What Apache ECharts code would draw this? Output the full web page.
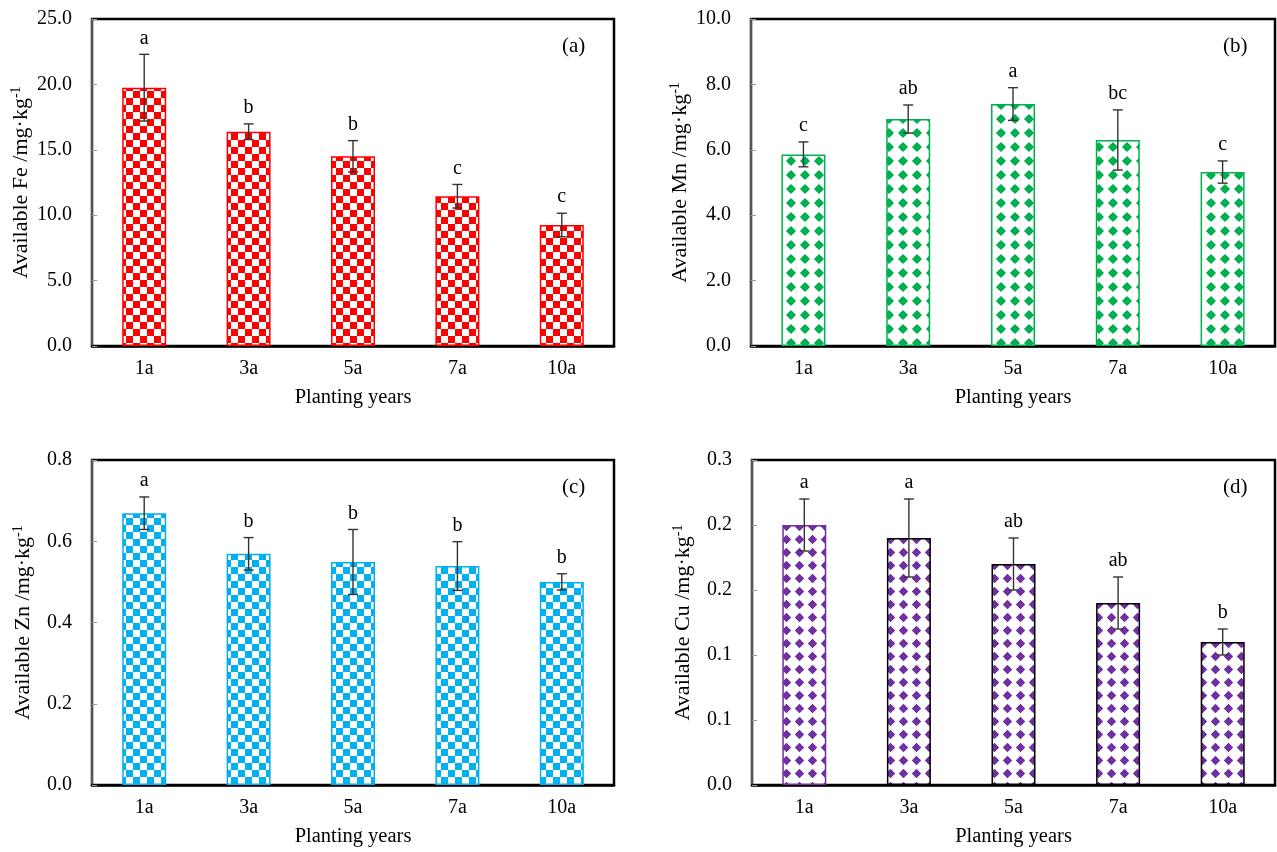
<!DOCTYPE html>
<html>
<head>
<meta charset="utf-8">
<script src="https://cdn.jsdelivr.net/npm/echarts@6/dist/echarts.min.js"></script>
<style>
html,body{margin:0;padding:0;background:#fff;}
#chart{width:1277px;height:852px;}
</style>
</head>
<body>
<div id="chart"></div>
<script>
// ---- data ----
const categories = ['1a', '3a', '5a', '7a', '10a'];

const feValues = [19.75, 16.38, 14.5, 11.45, 9.25];
const feErrors = [2.55, 0.6, 1.2, 0.9, 0.9];
const feLetters = ['a', 'b', 'b', 'c', 'c'];

const mnValues = [5.86, 6.94, 7.40, 6.30, 5.32];
const mnErrors = [0.38, 0.43, 0.5, 0.92, 0.34];
const mnLetters = ['c', 'ab', 'a', 'bc', 'c'];

const znValues = [0.669, 0.569, 0.549, 0.539, 0.50];
const znErrors = [0.04, 0.04, 0.08, 0.06, 0.02];
const znLetters = ['a', 'b', 'b', 'b', 'b'];

const cuValues = [0.20, 0.19, 0.17, 0.14, 0.11];
const cuErrors = [0.02, 0.03, 0.02, 0.02, 0.01];
const cuLetters = ['a', 'a', 'ab', 'ab', 'b'];

const yTitles = ['Available Fe /mg·kg', 'Available Mn /mg·kg', 'Available Zn /mg·kg', 'Available Cu /mg·kg'];
const panelLabels = ['(a)', '(b)', '(c)', '(d)'];
const xTitle = 'Planting years';

// ---- patterns ----
function tile(w, h, draw) {
  const c = document.createElement('canvas');
  c.width = w; c.height = h;
  const ctx = c.getContext('2d');
  ctx.fillStyle = '#fff';
  ctx.fillRect(0, 0, w, h);
  draw(ctx, w, h);
  return c;
}
function checker(color) {
  return tile(14, 14, (ctx) => {
    ctx.fillStyle = color;
    ctx.fillRect(0, 0, 7, 7);
    ctx.fillRect(7, 7, 7, 7);
  });
}
function diamonds(color, s) {
  return tile(s, s, (ctx, w, h) => {
    ctx.fillStyle = color;
    const cx = w / 2, cy = h / 2, r = s * 0.36;
    ctx.beginPath();
    ctx.moveTo(cx, cy - r); ctx.lineTo(cx + r, cy); ctx.lineTo(cx, cy + r); ctx.lineTo(cx - r, cy);
    ctx.closePath(); ctx.fill();
    ctx.beginPath();
    ctx.arc(cx, cy, s * 0.23, 0, Math.PI * 2);
    ctx.fill();
  });
}

const FONT = '"Liberation Serif", "Times New Roman", serif';
const grids = [
  { left: 92, top: 19, width: 522, height: 327 },
  { left: 751, top: 19, width: 524, height: 327 },
  { left: 92, top: 460, width: 522, height: 325 },
  { left: 752, top: 460, width: 523, height: 325 }
];
const yMaxes = [25, 10, 0.8, 0.25];
const yIntervals = [5, 2, 0.2, 0.05];

const panels = [
  { v: feValues, e: feErrors, l: feLetters, fill: { image: checker('#FF0000'), repeat: 'repeat' }, border: ['#FF0000','#FF0000','#FF0000','#FF0000','#FF0000'] },
  { v: mnValues, e: mnErrors, l: mnLetters, fill: { image: diamonds('#00B050', 14), repeat: 'repeat' }, border: ['#00B050','#00B050','#00B050','#00B050','#00B050'] },
  { v: znValues, e: znErrors, l: znLetters, fill: { image: checker('#00B0F0'), repeat: 'repeat' }, border: ['#00B0F0','#00B0F0','#00B0F0','#00B0F0','#00B0F0'] },
  { v: cuValues, e: cuErrors, l: cuLetters, fill: { image: diamonds('#7030A0', 13), repeat: 'repeat' }, border: ['#7030A0','#000','#000','#000','#000'] }
];

const option = {
  backgroundColor: '#fff',
  animation: false,
  grid: grids.map(g => Object.assign({ show: true, borderColor: '#000', borderWidth: 2.5, backgroundColor: 'transparent' }, g)),
  xAxis: grids.map((g, i) => ({
    type: 'category', gridIndex: i, data: categories,
    name: xTitle, nameLocation: 'middle', nameGap: 41,
    nameTextStyle: { fontFamily: FONT, fontSize: 20.5, color: '#000' },
    axisLine: { lineStyle: { color: '#000', width: 2.5 } },
    axisTick: { inside: true, length: 5, lineStyle: { color: '#000', width: 2 } },
    axisLabel: { fontFamily: FONT, fontSize: 20, color: '#000', margin: 13 }
  })),
  yAxis: grids.map((g, i) => ({
    type: 'value', gridIndex: i, min: 0, max: yMaxes[i], interval: yIntervals[i],
    name: '{t|' + yTitles[i] + '}{s|-1}', nameLocation: 'middle', nameGap: 57, nameRotate: 90,
    nameTextStyle: {
      fontFamily: FONT, fontSize: 22, color: '#000',
      rich: {
        t: { fontFamily: FONT, fontSize: 22, color: '#000', lineHeight: 24 },
        s: { fontFamily: FONT, fontSize: 14, color: '#000', lineHeight: 24, verticalAlign: 'top', padding: [0, 0, 10, 0] }
      }
    },
    splitLine: { show: false },
    axisLine: { show: true, lineStyle: { color: '#555', width: 2 } },
    axisTick: { show: true, inside: true, length: 5, lineStyle: { color: '#999', width: 1 } },
    axisLabel: {
      fontFamily: FONT, fontSize: 20, color: '#000', margin: 20,
      formatter: v => (Math.round(v * 10 + 1e-9) / 10).toFixed(1)
    }
  })),
  graphic: panelLabels.map((t, i) => ({
    type: 'text',
    left: grids[i].left + grids[i].width - 52,
    top: grids[i].top + 17,
    style: { text: t, font: '21px ' + FONT, fill: '#000' }
  })),
  series: []
};

panels.forEach((p, i) => {
  option.series.push({
    type: 'bar', xAxisIndex: i, yAxisIndex: i, barWidth: 44,
    data: p.v.map((v, k) => ({ value: v, itemStyle: { color: p.fill, borderColor: p.border[k], borderWidth: 1.5 } })),
    z: 2
  });
  option.series.push({
    type: 'custom', xAxisIndex: i, yAxisIndex: i, z: 5,
    data: p.v.map((v, k) => [k, v, p.e[k]]),
    renderItem: (params, api) => {
      const k = api.value(0), v = api.value(1), e = api.value(2);
      const top = api.coord([k, v + e]);
      const bot = api.coord([k, v - e]);
      const x = top[0], cw = 5;
      const st = { stroke: '#333', lineWidth: 1.4 };
      return {
        type: 'group',
        children: [
          { type: 'line', shape: { x1: x, y1: top[1], x2: x, y2: bot[1] }, style: st },
          { type: 'line', shape: { x1: x - cw, y1: top[1], x2: x + cw, y2: top[1] }, style: st },
          { type: 'line', shape: { x1: x - cw, y1: bot[1], x2: x + cw, y2: bot[1] }, style: st },
          { type: 'text', style: { text: p.l[params.dataIndex], x: x, y: top[1] - 16, textAlign: 'center', textVerticalAlign: 'middle', font: '20px ' + FONT, fill: '#000' } }
        ]
      };
    }
  });
});

const chart = echarts.init(document.getElementById('chart'), null, { renderer: 'canvas' });
chart.setOption(option);
</script>
</body>
</html>
